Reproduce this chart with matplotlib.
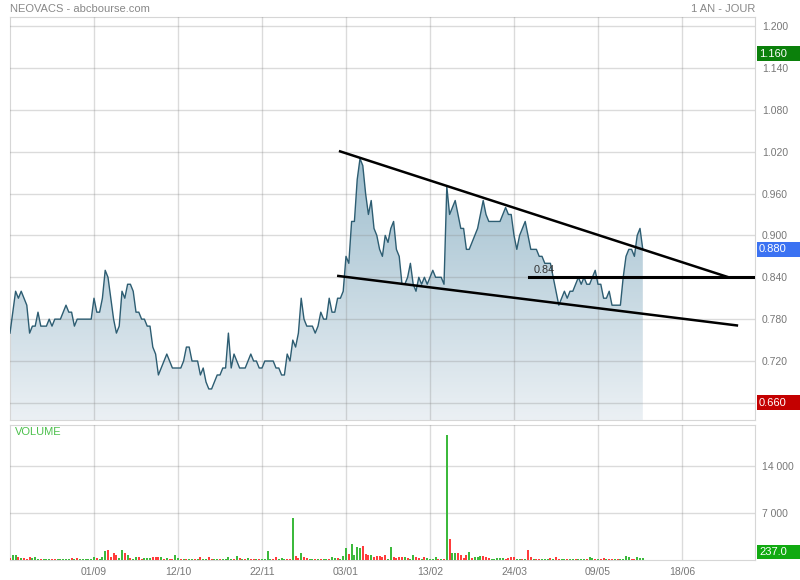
import numpy as np
import matplotlib
matplotlib.use("Agg")
import matplotlib.pyplot as plt
from matplotlib.patches import Polygon, Rectangle
from matplotlib.colors import LinearSegmentedColormap
from matplotlib.transforms import blended_transform_factory

plt.rcParams['font.family'] = ['Liberation Sans', 'DejaVu Sans']

# daily closes (one per trading session)
prices = [
    0.76, 0.79, 0.82, 0.81, 0.82, 0.81, 0.80, 0.76, 0.77, 0.77,
    0.79, 0.77, 0.77, 0.77, 0.78, 0.77, 0.78, 0.78, 0.78, 0.79,
    0.80, 0.79, 0.79, 0.77, 0.78, 0.78, 0.78, 0.78, 0.78, 0.78,
    0.81, 0.79, 0.79, 0.81, 0.85, 0.84, 0.81, 0.78, 0.76, 0.77,
    0.82, 0.81, 0.83, 0.83, 0.82, 0.79, 0.79, 0.78, 0.78, 0.77,
    0.77, 0.74, 0.73, 0.70, 0.71, 0.72, 0.73, 0.72, 0.71, 0.71,
    0.71, 0.71, 0.72, 0.74, 0.74, 0.72, 0.72, 0.72, 0.70, 0.71,
    0.69, 0.68, 0.68, 0.69, 0.70, 0.70, 0.71, 0.71, 0.76, 0.71,
    0.73, 0.72, 0.71, 0.71, 0.71, 0.72, 0.73, 0.72, 0.72, 0.71,
    0.71, 0.72, 0.72, 0.72, 0.72, 0.71, 0.71, 0.70, 0.70, 0.73,
    0.72, 0.75, 0.74, 0.76, 0.81, 0.78, 0.77, 0.77, 0.77, 0.76,
    0.77, 0.79, 0.78, 0.78, 0.81, 0.79, 0.79, 0.81, 0.81, 0.82,
    0.87, 0.86, 0.92, 0.92, 0.98, 1.01, 1.00, 0.96, 0.93, 0.95,
    0.91, 0.90, 0.88, 0.87, 0.90, 0.89, 0.91, 0.92, 0.88, 0.87,
    0.83, 0.83, 0.84, 0.86, 0.83, 0.82, 0.84, 0.83, 0.84, 0.83,
    0.84, 0.85, 0.84, 0.84, 0.84, 0.83, 0.97, 0.93, 0.94, 0.95,
    0.93, 0.91, 0.91, 0.88, 0.88, 0.89, 0.90, 0.91, 0.93, 0.95,
    0.93, 0.92, 0.92, 0.92, 0.92, 0.92, 0.93, 0.94, 0.93, 0.93,
    0.90, 0.88, 0.90, 0.91, 0.92, 0.90, 0.88, 0.88, 0.88, 0.87,
    0.87, 0.86, 0.86, 0.86, 0.84, 0.82, 0.80, 0.81, 0.82, 0.81,
    0.82, 0.82, 0.83, 0.84, 0.83, 0.84, 0.83, 0.83, 0.84, 0.85,
    0.83, 0.83, 0.81, 0.81, 0.82, 0.80, 0.80, 0.80, 0.80, 0.84,
    0.87, 0.88, 0.88, 0.87, 0.90, 0.91, 0.88,
]

volumes = [
    250, 800, 800, 400, 350, 250, 200, 500, 250, 500,
    150, 100, 100, 100, 100, 100, 100, 150, 100, 100,
    100, 100, 250, 100, 250, 100, 100, 100, 100, 100,
    500, 250, 100, 500, 1350, 1500, 400, 1000, 750, 250,
    1500, 1100, 700, 250, 200, 400, 400, 150, 250, 350,
    300, 500, 500, 450, 400, 150, 250, 150, 150, 700,
    300, 150, 200, 100, 100, 150, 100, 150, 400, 150,
    100, 500, 100, 100, 100, 100, 100, 100, 400, 150,
    100, 600, 250, 100, 100, 250, 100, 100, 100, 100,
    100, 100, 1400, 100, 100, 400, 150, 250, 100, 150,
    150, 6200, 600, 250, 1000, 500, 250, 150, 150, 100,
    100, 100, 100, 150, 100, 500, 250, 250, 150, 600,
    1750, 900, 2350, 750, 2000, 1750, 2100, 900, 750, 750,
    500, 600, 600, 400, 750, 200, 2000, 500, 250, 500,
    500, 400, 250, 150, 750, 400, 250, 150, 500, 250,
    150, 150, 400, 150, 100, 150, 18600, 3100, 1100, 1100,
    1000, 700, 250, 750, 1200, 250, 400, 400, 600, 600,
    400, 250, 150, 150, 250, 300, 250, 150, 250, 400,
    400, 200, 150, 150, 200, 1500, 400, 200, 100, 100,
    100, 150, 150, 250, 150, 400, 200, 150, 200, 100,
    150, 100, 150, 200, 100, 150, 100, 500, 300, 150,
    150, 150, 250, 100, 150, 150, 100, 100, 100, 150,
    600, 400, 200, 150, 500, 300, 237,
]

# u = up session, d = down session
directions = (
    "duududddu" "u"
    "uduuudduuu"
    "uududuuuuu"
    "uduuuddddu"
    "ududuudduu"
    "udddudud" "du"
    "ududuudud" "u"
    "udduuduuuu"
    "dudududdud"
    "uuuudduuud"
    "dudduddu" "ud"
    "uduudu" "udu" "u"
    "uduuuudddu"
    "ddddduuddd"
    "dudu" "uddudu"
    "uuudud" "uduu"
    "ddddu" "duuud"
    "dduuuuuddd"
    "duudu" "ddudd"
    "uuudu" "dduud"
    "uuduuuduud"
    "udduddudu" "u"
    "uudduuu"
)

date_ticks = [30, 60, 90, 120, 150, 180, 210, 240]
date_labels = ["01/09", "12/10", "22/11", "03/01", "13/02", "24/03", "09/05", "18/06"]
price_ticks = [1.200, 1.140, 1.080, 1.020, 0.960, 0.900, 0.840, 0.780, 0.720, 0.660]
vol_ticks = [0, 7000, 14000]
vol_tick_labels = ["0", "7 000", "14 000"]

# drawn trend lines (index, price)
upper_trend = [(117.9, 1.0204), (256.1, 0.8407)]
lower_trend = [(117.25, 0.8419), (259.6, 0.7710)]
support_level = 0.84
support_start = 185.5

high_52w = 1.160
low_52w = 0.660
last_price = prices[-1]
last_volume = volumes[-1]

x = np.arange(len(prices))
xmax = 266.07
pmin, pmax = 0.6355, 1.2125

W, H = 800, 580
fig = plt.figure(figsize=(W / 100, H / 100), dpi=100)
ax = fig.add_axes([10 / W, (H - 420) / H, 745 / W, (420 - 17.3) / H])
axv = fig.add_axes([10 / W, (H - 560) / H, 745 / W, 135 / H])

grid_kw = dict(color='#888888', alpha=0.3, lw=1, zorder=3)
frame = '#d6d6d6'

# --- price panel
grad_cmap = LinearSegmentedColormap.from_list('g', ['#76a4ba', '#ebf0f4'])
grad = np.linspace(0, 1, 256).reshape(-1, 1)
im = ax.imshow(grad, extent=[0, xmax, pmin, pmax], origin='upper', aspect='auto',
               cmap=grad_cmap, zorder=1)
verts = [(x[0], pmin)] + list(zip(x, prices)) + [(x[-1], pmin)]
poly = Polygon(verts, closed=True, facecolor='none', edgecolor='none')
ax.add_patch(poly)
im.set_clip_path(poly)
ax.plot(x, prices, color='#2d5d72', lw=1, zorder=4)

for t in date_ticks:
    ax.axvline(t, **grid_kw)
for t in price_ticks:
    ax.axhline(t, **grid_kw)

(x1, y1), (x2, y2) = upper_trend
ax.plot([x1, x2], [y1, y2], color='black', lw=1.8, zorder=5)
(x1, y1), (x2, y2) = lower_trend
ax.plot([x1, x2], [y1, y2], color='black', lw=1.8, zorder=5)
ax.plot([support_start, xmax], [support_level, support_level], color='black', lw=2.2, zorder=5)
ax.text(support_start + 1.5, support_level + 0.003, f"{support_level:.2f}", fontsize=7.8,
        color='#333333', va='bottom', ha='left', zorder=6)

ax.set_xlim(0, xmax)
ax.set_ylim(pmin, pmax)
ax.set_xticks([])
ax.yaxis.tick_right()
ax.set_yticks(price_ticks)
ax.set_yticklabels([f"{t:.3f}" for t in price_ticks])
ax.tick_params(axis='y', length=0, pad=5, labelsize=7.5, labelcolor='#777777')
for s in ax.spines.values():
    s.set_color(frame)

# --- volume panel
colors = ['#3cb93c' if d == 'u' else '#ff3c3c' for d in directions]
axv.bar(x, volumes, width=0.72, color=colors, zorder=4)
for t in date_ticks:
    axv.axvline(t, **grid_kw)
for t in vol_ticks[1:]:
    axv.axhline(t, **grid_kw)
axv.set_xlim(0, xmax)
axv.set_ylim(0, 20100)
axv.yaxis.tick_right()
axv.set_yticks(vol_ticks)
axv.set_yticklabels(vol_tick_labels)
axv.set_xticks(date_ticks)
axv.set_xticklabels(date_labels)
axv.tick_params(axis='both', length=0, labelsize=7.5, labelcolor='#777777')
axv.tick_params(axis='y', pad=5)
axv.tick_params(axis='x', pad=5)
for lbl in axv.get_yticklabels():
    if lbl.get_text() == "0":
        lbl.set_verticalalignment('bottom')
for s in axv.spines.values():
    s.set_color(frame)
axv.text(5 / 745, 0.985, "VOLUME", transform=axv.transAxes, fontsize=8,
         color='#4cc04c', va='top', ha='left')

# --- value tags on the right
def tag(axis, value, label, color, height):
    trans = blended_transform_factory(fig.transFigure, axis.transData)
    fig.add_artist(Rectangle((757 / W, value - height / 2), 43 / W, height,
                             transform=trans, facecolor=color, edgecolor='none', zorder=10))
    fig.text(759 / W, value, label, transform=trans, color='white', fontsize=8,
             va='center', ha='left', zorder=11)

ph = 15 / 698
tag(ax, high_52w, f"{high_52w:.3f}", '#0b800b', ph)
tag(ax, last_price, f"{last_price:.3f}", '#3b72f2', ph)
tag(ax, low_52w, f"{low_52w:.3f}", '#c40000', ph)
vh = 14 * 149
tag(axv, max(last_volume, vh * 0.55), f"{last_volume:.1f}", '#11aa11', vh)

# --- header
fig.text(10 / W, 1 - 9 / H, "NEOVACS - abcbourse.com", fontsize=8, color='#888888',
         va='center', ha='left')
fig.text(755 / W, 1 - 9 / H, "1 AN - JOUR", fontsize=8, color='#888888',
         va='center', ha='right')

fig.savefig("out.png", dpi=100)
